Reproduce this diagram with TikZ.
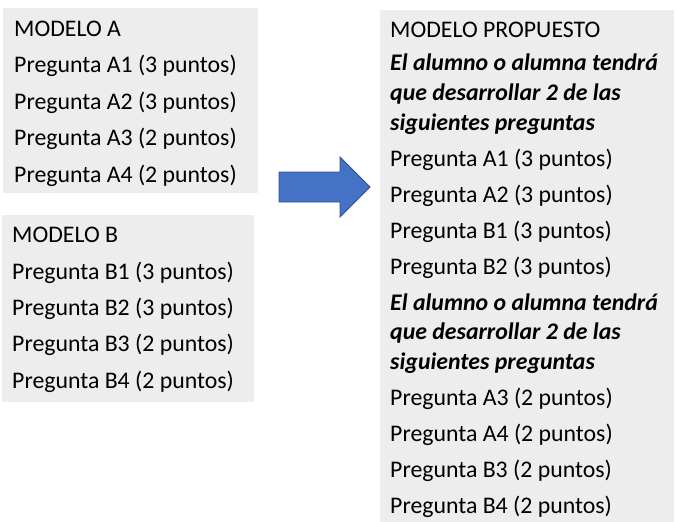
\documentclass[tikz,border=0pt]{standalone}
\usepackage{fontspec}
\setmainfont{Carlito}
\definecolor{boxgray}{HTML}{EDEDED}
\definecolor{arrowblue}{HTML}{4472C4}
\definecolor{arrowedge}{HTML}{2F528F}
\begin{document}
\begin{tikzpicture}[x=1pt,y=1pt,
  panel/.style={fill=boxgray, draw=none, inner sep=0pt, anchor=north west},
  txt/.style={anchor=base west, inner sep=0pt, font=\fontsize{23.8}{29}\selectfont},
  bitxt/.style={txt, font=\fontsize{23.8}{29}\selectfont\bfseries\itshape},
  blockarrow/.style={fill=arrowblue, draw=arrowedge, line width=0.8pt, line join=miter}]
\useasboundingbox (0,0) rectangle (678,-522);
% panels
\node[panel, minimum width=255, minimum height=185] (boxA) at (3,-8) {};
\node[panel, minimum width=252, minimum height=187] (boxB) at (2,-215) {};
\node[panel, minimum width=294, minimum height=512] (boxP) at (380,-10) {};
% Modelo A
\node[txt] (a0) at (14,-36) {MODELO A};
\node[txt] (a1) at (14,-72.5) {Pregunta A1 (3 puntos)};
\node[txt] (a2) at (14,-109) {Pregunta A2 (3 puntos)};
\node[txt] (a3) at (14,-145.5) {Pregunta A3 (2 puntos)};
\node[txt] (a4) at (14,-182) {Pregunta A4 (2 puntos)};
% Modelo B
\node[txt] (b0) at (12,-242.5) {MODELO B};
\node[txt] (b1) at (12,-279) {Pregunta B1 (3 puntos)};
\node[txt] (b2) at (12,-315) {Pregunta B2 (3 puntos)};
\node[txt] (b3) at (12,-351.5) {Pregunta B3 (2 puntos)};
\node[txt] (b4) at (12,-388) {Pregunta B4 (2 puntos)};
% Modelo propuesto
\node[txt] (p0) at (390,-37) {MODELO PROPUESTO};
\node[bitxt] (p1) at (390,-70) {El alumno o alumna tendrá};
\node[bitxt] (p2) at (390,-100) {que desarrollar 2 de las};
\node[bitxt] (p3) at (390,-130) {siguientes preguntas};
\node[txt] (p4) at (390,-166) {Pregunta A1 (3 puntos)};
\node[txt] (p5) at (390,-202) {Pregunta A2 (3 puntos)};
\node[txt] (p6) at (390,-238) {Pregunta B1 (3 puntos)};
\node[txt] (p7) at (390,-274) {Pregunta B2 (3 puntos)};
\node[bitxt] (p8) at (390,-310) {El alumno o alumna tendrá};
\node[bitxt] (p9) at (390,-339.5) {que desarrollar 2 de las};
\node[bitxt] (p10) at (390,-369) {siguientes preguntas};
\node[txt] (p11) at (390,-405) {Pregunta A3 (2 puntos)};
\node[txt] (p12) at (390,-441) {Pregunta A4 (2 puntos)};
\node[txt] (p13) at (390,-477) {Pregunta B3 (2 puntos)};
\node[txt] (p14) at (390,-513) {Pregunta B4 (2 puntos)};
% block arrow
\coordinate (arrtail) at (279,-187);
\coordinate (arrtip) at (370,-187);
\draw[blockarrow] (279,-172) -- (340,-172) -- (340,-157) -- (arrtip) -- (340,-217) -- (340,-202) -- (279,-202) -- cycle;
\end{tikzpicture}
\end{document}
